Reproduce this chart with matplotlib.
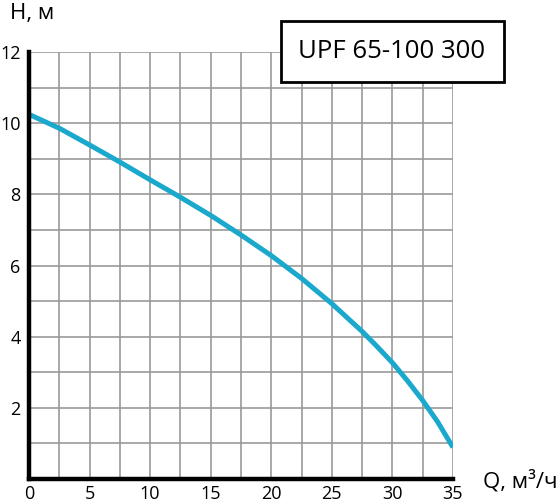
import numpy as np
import matplotlib
matplotlib.use("Agg")
import matplotlib.pyplot as plt
import matplotlib.patches as mpatches
from matplotlib.ticker import MultipleLocator, FixedLocator

# ─── Data ───────────────────────────────────────────────────────────────────
flow = [0, 2.5, 5, 7.5, 10, 12.5, 15, 17.5, 20, 22.5, 25, 27.5, 28.75,
        30, 31.25, 32.5, 33.75, 35]
head = [10.25, 9.86, 9.39, 8.91, 8.41, 7.92, 7.41, 6.86, 6.28, 5.64, 4.93,
        4.15, 3.72, 3.27, 2.76, 2.21, 1.60, 0.89]
x_ticks = [0, 5, 10, 15, 20, 25, 30, 35]
y_ticks = [2, 4, 6, 8, 10, 12]
model = "UPF 65-100 300"

CURVE = "#1aa8cc"
GRID = "#9a9a9a"
FONT = "Open Sans"

plt.rcParams["font.family"] = [FONT, "DejaVu Sans"]

fig = plt.figure(figsize=(5.6, 5.04), dpi=100, facecolor="white")
ax = fig.add_axes([0.0518, 0.0496, 0.757, 0.847])

ax.plot(flow, head, color=CURVE, linewidth=3.6, solid_capstyle="butt",
        solid_joinstyle="round", zorder=3)

ax.set_xlim(0, 35)
ax.set_ylim(0, 12)

# grid every 2.5 m3/h and every 1 m
ax.xaxis.set_minor_locator(MultipleLocator(2.5))
ax.yaxis.set_minor_locator(MultipleLocator(1))
ax.xaxis.set_major_locator(FixedLocator(x_ticks))
ax.yaxis.set_major_locator(FixedLocator(y_ticks))
ax.grid(True, which="both", color=GRID, linewidth=1.2, zorder=1)
ax.set_axisbelow(True)

ax.tick_params(which="both", length=0)
ax.tick_params(axis="x", labelsize=13, pad=4)
ax.tick_params(axis="y", labelsize=13, pad=6)

for side in ("top", "right"):
    ax.spines[side].set_visible(False)
for side in ("left", "bottom"):
    ax.spines[side].set_linewidth(3.2)
    ax.spines[side].set_color("black")
    ax.spines[side].set_zorder(4)

fig.text(0.018, 0.974, "H, м", fontsize=16, ha="left", va="center")
fig.text(0.862, 0.045, "Q, м³/ч", fontsize=16, ha="left", va="center")

# model name box
box = mpatches.Rectangle((0.502, 0.837), 0.398, 0.121, transform=fig.transFigure,
                         facecolor="white", edgecolor="black", linewidth=2,
                         zorder=5)
fig.add_artist(box)
fig.text(0.7, 0.897, model, fontsize=18.5, ha="center", va="center", zorder=6)

fig.savefig("out.png", dpi=100, facecolor="white")
